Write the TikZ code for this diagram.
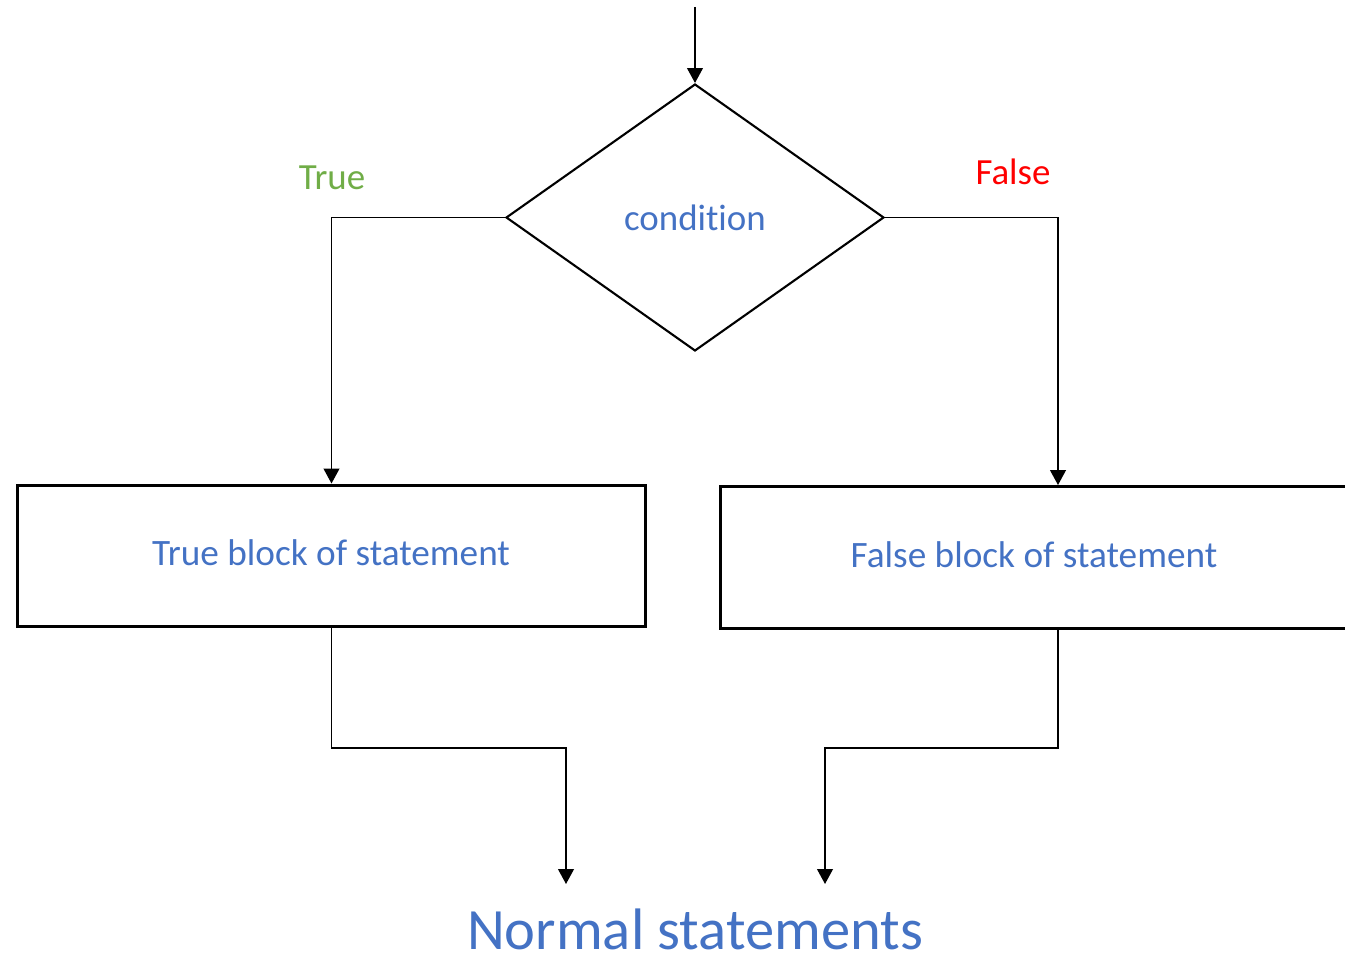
\documentclass[tikz,border=0pt]{standalone}
\usepackage{fontspec}
\setmainfont[Ligatures={NoCommon,NoRare}]{Carlito}
\usetikzlibrary{shapes.geometric,arrows.meta}
\definecolor{txtblue}{HTML}{4472C4}
\definecolor{truegreen}{HTML}{70AD47}
\definecolor{falsered}{HTML}{FF0000}
\begin{document}
\begin{tikzpicture}[x=0.02cm,y=-0.02cm,
  conn/.style={line width=0.85pt},
  arr/.style={conn,-{Triangle[width=9pt,length=8.5pt]}},
  decision/.style={draw,diamond,line width=1.2pt,inner sep=0pt,minimum width=7.56cm,minimum height=5.34cm,text=txtblue,font=\fontsize{21}{25}\selectfont},
  blockbox/.style={draw,rectangle,line width=1.7pt,inner sep=0pt,minimum height=2.84cm},
  blocktext/.style={text=txtblue,font=\fontsize{21.2}{25}\selectfont,inner sep=0pt},
  branchlabel/.style={font=\fontsize{21}{25}\selectfont,inner sep=0pt},
  bigtext/.style={text=txtblue,font=\fontsize{33.3}{40}\selectfont,inner sep=0pt,anchor=base}]
\useasboundingbox (0,0) rectangle (1345,956);
\clip (0,0) rectangle (1345,956);
\coordinate (start) at (695,7);
\node[decision] (cond) at (695,217.5) {condit\kern0pt ion};
\node[blockbox,minimum width=12.58cm] (tbox) at (331.5,556) {};
\node[blocktext] (ttext) at (331,553) {True block of statement};
\node[blockbox,minimum width=13.52cm] (fbox) at (1058,557.5) {};
\node[blocktext] (ftext) at (1034,555) {False block of statement};
\node[branchlabel,text=truegreen] (tlabel) at (332,178) {True};
\node[branchlabel,text=falsered] (flabel) at (1013,172) {False};
\node[bigtext] (normal) at (695,949) {Normal statements};
\coordinate (tend) at (566,884);
\coordinate (fend) at (825,884);
\draw[arr] (start) -- (cond.north);
\draw[arr] (cond.west) -| (tbox.north);
\draw[arr] (cond.east) -| (fbox.north);
\draw[arr] (tbox.south) |- (tend |- 0,748) -- (tend);
\draw[arr] (fbox.south) |- (fend |- 0,748) -- (fend);
\end{tikzpicture}
\end{document}
